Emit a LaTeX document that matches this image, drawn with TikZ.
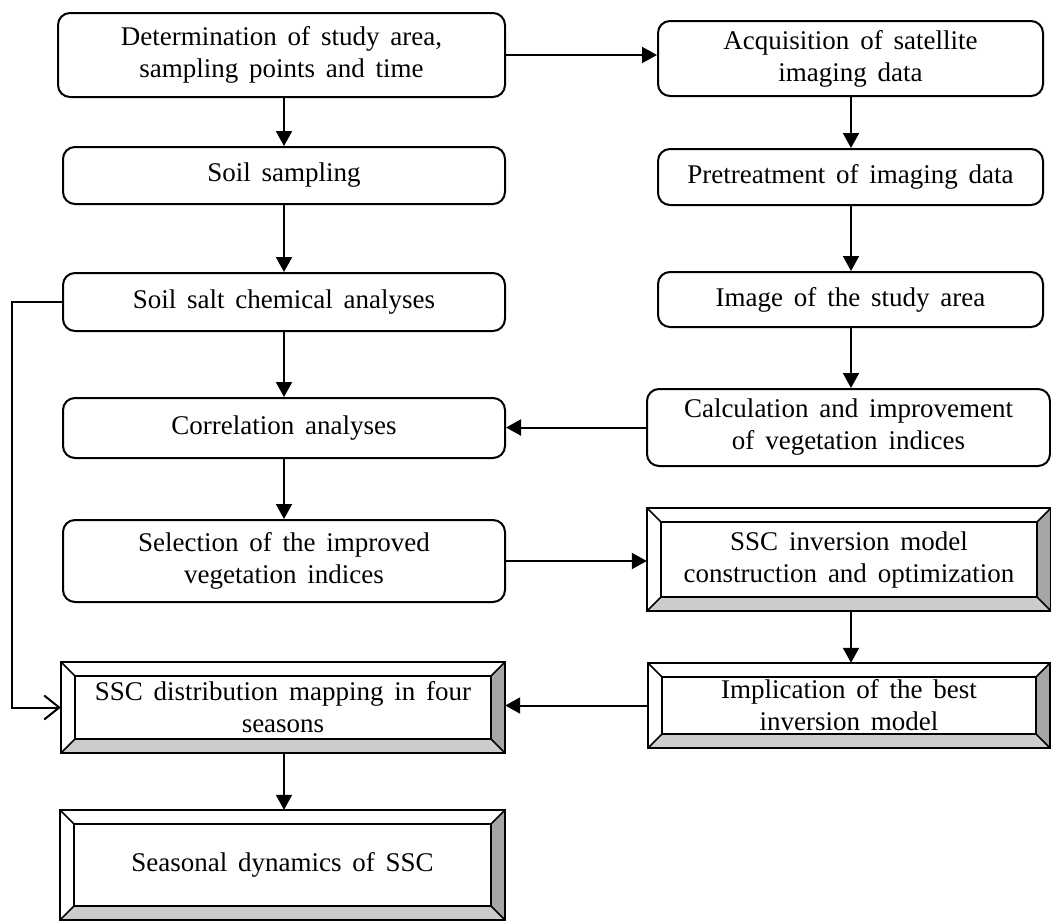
\documentclass[tikz,border=0pt]{standalone}
\usepackage{fontspec}
\setmainfont{Liberation Serif}
\usetikzlibrary{arrows.meta}
\newcommand\bevelit[1]{%
  \fill[gray!70!white] (#1.north east) -- (#1.south east) -- ([shift={(-14pt,14pt)}]#1.south east) -- ([shift={(-14pt,-14pt)}]#1.north east) -- cycle;
  \fill[gray!40!white] (#1.south west) -- (#1.south east) -- ([shift={(-14pt,14pt)}]#1.south east) -- ([shift={(14pt,14pt)}]#1.south west) -- cycle;
  \draw[line width=2pt] (#1.north west) rectangle (#1.south east);
  \draw[line width=2pt] ([shift={(14pt,-14pt)}]#1.north west) rectangle ([shift={(-14pt,14pt)}]#1.south east);
  \draw[line width=1.6pt] (#1.north west) -- ([shift={(14pt,-14pt)}]#1.north west)
    (#1.north east) -- ([shift={(-14pt,-14pt)}]#1.north east)
    (#1.south west) -- ([shift={(14pt,14pt)}]#1.south west)
    (#1.south east) -- ([shift={(-14pt,14pt)}]#1.south east);
}
\newcommand\txtfont{\fontsize{27}{32}\selectfont\spaceskip=0.4em plus 0.1em minus 0.05em\relax}
\tikzset{
  box/.style={draw, line width=2pt, rounded corners=12pt, fill=white, align=center,
    inner sep=0pt, font=\txtfont},
  bev/.style={align=center, inner sep=0pt, font=\txtfont},
  arr/.style={line width=2pt, -{Triangle[length=15pt,width=16pt]}},
  oarr/.style={line width=2pt, -{Straight Barb[length=15pt,width=24pt,line width=2pt]}},
}
\begin{document}
\begin{tikzpicture}[x=1pt,y=-1pt]
\useasboundingbox (0,0) rectangle (1051,921);
% left column
\node[box, minimum width=447pt, minimum height=84pt] (det) at (281.5,55) {Determination of study area,\\sampling points and time};
\node[box, minimum width=442pt, minimum height=57pt] (soil) at (284,175.5) {Soil sampling};
\node[box, minimum width=442pt, minimum height=58pt] (salt) at (284,302) {Soil salt chemical analyses};
\node[box, minimum width=442pt, minimum height=60pt] (corr) at (284,428) {Correlation analyses};
\node[box, minimum width=442pt, minimum height=82pt] (sel) at (284,561) {Selection of the improved\\vegetation indices};
\node[bev, minimum width=444pt, minimum height=91pt] (dist) at (283,707.5) {SSC distribution mapping in four\\seasons};
\node[bev, minimum width=445pt, minimum height=110pt] (seas) at (282.5,865) {Seasonal dynamics of SSC};
% right column
\node[box, minimum width=385pt, minimum height=75pt] (acq) at (850.5,58.5) {Acquisition of satellite\\imaging data};
\node[box, minimum width=385pt, minimum height=56pt] (pre) at (850.5,177) {Pretreatment of imaging data};
\node[box, minimum width=385pt, minimum height=55pt] (img) at (850.5,299.5) {Image of the study area};
\node[box, minimum width=403pt, minimum height=77pt] (calc) at (848.5,427.5) {Calculation and improvement\\of vegetation indices};
\node[bev, minimum width=404pt, minimum height=103pt] (inv) at (849,559.5) {SSC inversion model\\construction and optimization};
\node[bev, minimum width=402pt, minimum height=85pt] (impl) at (849,705.5) {Implication of the best\\inversion model};
\bevelit{dist}
\bevelit{seas}
\bevelit{inv}
\bevelit{impl}
% connectors
\coordinate (lx) at (284,0);
\coordinate (rx) at (851,0);
\draw[arr] (det.east) -- (det.east -| acq.west);
\draw[arr] (det.south -| lx) -- (soil.north -| lx);
\draw[arr] (soil.south -| lx) -- (salt.north -| lx);
\draw[arr] (salt.south -| lx) -- (corr.north -| lx);
\draw[arr] (corr.south -| lx) -- (sel.north -| lx);
\draw[arr] (sel.east) -- (sel.east -| inv.west);
\draw[arr] (acq.south -| rx) -- (pre.north -| rx);
\draw[arr] (pre.south -| rx) -- (img.north -| rx);
\draw[arr] (img.south -| rx) -- (calc.north -| rx);
\draw[arr] (calc.west) -- (calc.west -| corr.east);
\draw[arr] (inv.south -| rx) -- (impl.north -| rx);
\draw[arr] (impl.west) -- (impl.west -| dist.east);
\draw[arr] (dist.south -| lx) -- (seas.north -| lx);
\coordinate (lp) at (12,0);
\draw[oarr] (salt.west) -- (salt.west -| lp) -- (dist.west -| lp) -- (dist.west);
\end{tikzpicture}
\end{document}
